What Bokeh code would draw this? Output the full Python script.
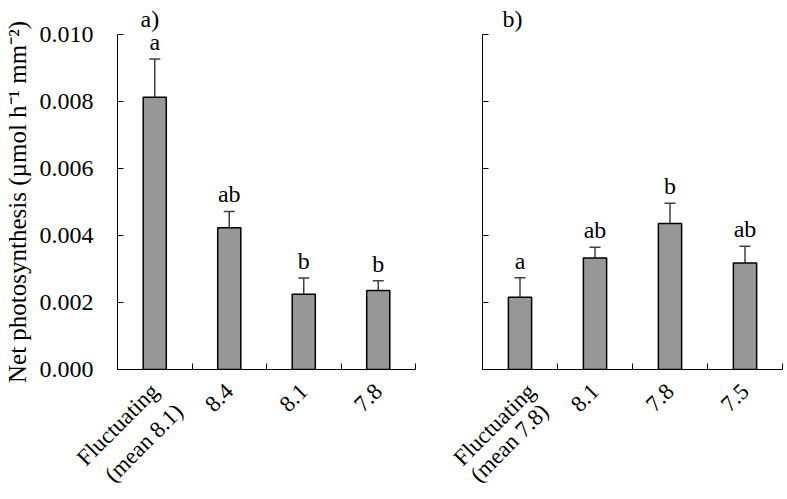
import math
from bokeh.plotting import figure
from bokeh.layouts import row
from bokeh.models import (Range1d, FixedTicker, ColumnDataSource, Whisker, TeeHead,
                          Title, NumeralTickFormatter)
from bokeh.core.properties import value
from bokeh.embed import file_html
from bokeh.resources import INLINE

# ---- data ----
cats_a = ["Fluctuating\n(mean 8.1)", "8.4", "8.1", "7.8"]
mean_a = [0.00813, 0.00423, 0.00225, 0.00236]
err_a = [0.00927, 0.00472, 0.00273, 0.00265]
sig_a = ["a", "ab", "b", "b"]

cats_b = ["Fluctuating\n(mean 7.8)", "8.1", "7.8", "7.5"]
mean_b = [0.00216, 0.00333, 0.00436, 0.00318]
err_b = [0.00274, 0.00365, 0.00496, 0.00368]
sig_b = ["a", "ab", "b", "ab"]

y_ticks = [0.0, 0.002, 0.004, 0.006, 0.008, 0.010]
panel_labels = ["a)", "b)"]

FONT = "Liberation Serif"
BAR_COLOR = "#979797"
HEIGHT = 498
TOP = 33
BOTTOM = 129
NBSP = "\u00a0"
yr = Range1d(0, 0.010)


def label_ticks(xs, cats):
    """Place each label line on its own (invisible) tick; second lines of a
    two-line label are shifted so they sit below the first line."""
    pos, txt = [], []
    for x, c in zip(xs, cats):
        lines = c.split("\n")
        pos.append(x)
        txt.append(lines[0])
        if len(lines) > 1:
            pos.append(x + 0.6)
            txt.append(lines[1] + NBSP * 5)
    return pos, txt


def panel(cats, means, errs, sigs, label, label_offset, width, left, right,
          show_labels, ylabel=None):
    n = len(cats)
    xs = [i + 0.5 for i in range(n)]
    p = figure(width=width, height=HEIGHT, x_range=Range1d(0, n), y_range=yr,
               output_backend="svg", toolbar_location=None,
               min_border_left=left, min_border_right=right,
               min_border_top=TOP, min_border_bottom=BOTTOM)
    p.outline_line_color = None
    p.xgrid.visible = False
    p.ygrid.visible = False
    p.background_fill_color = "white"
    p.border_fill_color = "white"

    src = ColumnDataSource(dict(x=xs, top=means, up=errs, sig=sigs))
    p.vbar(x="x", top="top", bottom=0, width=0.31, source=src,
           fill_color=BAR_COLOR, line_color="black", line_width=1.5)
    w = Whisker(base="x", lower="top", upper="up", source=src,
                line_color="#404040", line_width=1.5,
                upper_head=TeeHead(size=11, line_color="#404040", line_width=1.5),
                lower_head=None)
    p.add_layout(w)
    p.text(x="x", y="up", text="sig", source=src, text_align="center",
           text_baseline="bottom", y_offset=-4, text_font=value(FONT),
           text_font_size="24px", text_color="black")

    # x axis: rotated category labels, boundary tick marks
    pos, txt = label_ticks(xs, cats)
    xa = p.xaxis[0]
    xa.ticker = FixedTicker(ticks=pos, minor_ticks=[i + 1 for i in range(n)])
    xa.major_label_overrides = {x: t for x, t in zip(pos, txt)}
    xa.major_tick_in = 0
    xa.major_tick_out = 0
    xa.minor_tick_in = 6
    xa.minor_tick_out = 0
    xa.minor_tick_line_color = "black"
    xa.axis_line_color = "black"
    xa.major_label_orientation = math.pi / 4
    xa.major_label_text_font = FONT
    xa.major_label_text_font_size = "23px"
    xa.major_label_text_color = "black"
    xa.major_label_standoff = 18

    # y axis
    ya = p.yaxis[0]
    ya.axis_line_color = "black"
    if show_labels:
        ya.ticker = FixedTicker(ticks=y_ticks, minor_ticks=[])
        ya.formatter = NumeralTickFormatter(format="0.000")
        ya.major_tick_in = 6
        ya.major_tick_out = 0
        ya.minor_tick_in = 0
        ya.minor_tick_out = 0
        ya.major_tick_line_color = "black"
        ya.major_label_text_font = FONT
        ya.major_label_text_font_size = "24px"
        ya.major_label_text_color = "black"
        ya.major_label_standoff = 24
    else:
        # tick marks only, no tick labels
        ya.ticker = FixedTicker(ticks=[], minor_ticks=y_ticks)
        ya.minor_tick_in = 6
        ya.minor_tick_out = 0
        ya.minor_tick_line_color = "black"
    if ylabel:
        ya.axis_label = ylabel
        ya.axis_label_text_font = FONT
        ya.axis_label_text_font_size = "25px"
        ya.axis_label_text_font_style = "normal"
        ya.axis_label_text_color = "black"
        ya.axis_label_standoff = 6

    t = Title(text=label, align="left", offset=label_offset, text_font=FONT,
              text_font_size="24px", text_font_style="normal",
              text_color="black", standoff=6)
    p.add_layout(t, "above")
    return p


p1 = panel(cats_a, mean_a, err_a, sig_a, panel_labels[0], 23, 448, 115, 33, True,
           "Net photosynthesis (\u00b5mol h\u207b\u00b9 mm\u207b\u00b2)")
p2 = panel(cats_b, mean_b, err_b, sig_b, panel_labels[1], 20, 337, 34, 3, False)

layout = row(p1, p2)
open("out.html", "w").write(file_html(layout, INLINE))
